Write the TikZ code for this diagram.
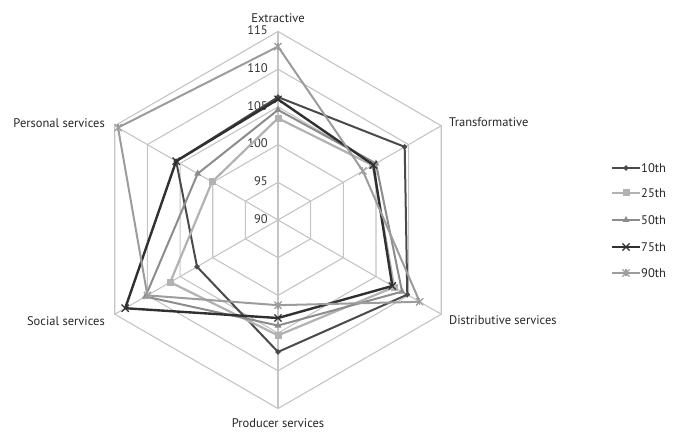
\documentclass[tikz,border=0pt]{standalone}
\usepackage{fontspec}
\setmainfont{PT Sans}
\usetikzlibrary{shapes.geometric,shapes.misc}
\definecolor{gridgray}{HTML}{C4C4C4}
\definecolor{cten}{HTML}{4A4A4A}
\definecolor{ctwfive}{HTML}{B2B2B2}
\definecolor{cfifty}{HTML}{8C8C8C}
\definecolor{csevfive}{HTML}{303030}
\definecolor{cninety}{HTML}{9C9C9C}
\newcommand{\radsc}{7.54}
\newcommand{\mkpts}[7]{%
  \coordinate (#1-1) at (90:{(#2-90)*\radsc});
  \coordinate (#1-2) at (30:{(#3-90)*\radsc});
  \coordinate (#1-3) at (-30:{(#4-90)*\radsc});
  \coordinate (#1-4) at (-90:{(#5-90)*\radsc});
  \coordinate (#1-5) at (-150:{(#6-90)*\radsc});
  \coordinate (#1-6) at (150:{(#7-90)*\radsc});
}
\begin{document}
\begin{tikzpicture}[x=1pt,y=1pt,
  gridline/.style={draw=gridgray, line width=1.1pt},
  lab/.style={font=\fontsize{12.5}{14}\selectfont, text=black!85, inner sep=1pt},
  vlab/.style={font=\fontsize{12.5}{14}\selectfont, text=black!80, anchor=east, inner sep=1pt},
  sten/.style={draw=cten, line width=2pt, line join=round},
  stwfive/.style={draw=ctwfive, line width=2.2pt, line join=round},
  sfifty/.style={draw=cfifty, line width=2pt, line join=round},
  ssevfive/.style={draw=csevfive, line width=2.4pt, line join=round},
  sninety/.style={draw=cninety, line width=2pt, line join=round},
  mkten/.style={diamond, fill=cten, inner sep=0pt, minimum size=6pt},
  mktwfive/.style={rectangle, fill=ctwfive, inner sep=0pt, minimum size=7pt},
  mkfifty/.style={regular polygon, regular polygon sides=3, fill=cfifty, inner sep=0pt, minimum size=8pt},
  mksevfive/.style={cross out, draw=csevfive, line width=1.2pt, inner sep=0pt, minimum size=6pt},
  mkninety/.style={cross out, draw=cninety, line width=1.2pt, inner sep=0pt, minimum size=6pt},
]
\useasboundingbox (0,0) rectangle (674,435);
\begin{scope}[shift={(278,215)}]
  % grid rings
  \foreach \v in {95,100,105,110,115}{
    \draw[gridline] (90:{(\v-90)*\radsc}) -- (30:{(\v-90)*\radsc}) -- (-30:{(\v-90)*\radsc})
      -- (-90:{(\v-90)*\radsc}) -- (-150:{(\v-90)*\radsc}) -- (150:{(\v-90)*\radsc}) -- cycle;
  }
  \coordinate (O) at (0,0);
  \foreach \a [count=\i] in {90,30,-30,-90,-150,150}{
    \coordinate (ax-\i) at (\a:{25*\radsc});
    \draw[gridline] (O) -- (ax-\i);
  }
  % value labels
  \foreach \v in {90,95,100,105,110,115}{
    \node[vlab] (vl-\v) at (-9,{(\v-90)*\radsc+1}) {\v};
  }
  % category labels
  \node[lab, anchor=south] (cE) at (0,196) {Extractive};
  \node[lab, anchor=west] (cT) at (170,98) {Transformative};
  \node[lab, anchor=west] (cD) at (170,-100) {Distributive services};
  \node[lab, anchor=north] (cP) at (0,-197) {Producer services};
  \node[lab, anchor=east] (cS) at (-172,-101) {Social services};
  \node[lab, anchor=east] (cPe) at (-172,97) {Personal services};

  % data
  \mkpts{sA}{106.3}{109.4}{109.8}{107.5}{102.4}{105.6}
  \mkpts{sB}{103.5}{104.5}{107.8}{105.3}{106.5}{100.1}
  \mkpts{sC}{104.6}{105.0}{109.0}{104.0}{110.3}{102.3}
  \mkpts{sD}{106.0}{104.6}{107.5}{103.0}{113.4}{105.6}
  \mkpts{sE}{113.0}{103.0}{111.7}{101.3}{110.0}{114.5}

  \draw[sten] (sA-1) -- (sA-2) -- (sA-3) -- (sA-4) -- (sA-5) -- (sA-6) -- cycle;
  \foreach \i in {1,...,6}{\node[mkten] (mA-\i) at (sA-\i) {};}
  \draw[stwfive] (sB-1) -- (sB-2) -- (sB-3) -- (sB-4) -- (sB-5) -- (sB-6) -- cycle;
  \foreach \i in {1,...,6}{\node[mktwfive] (mB-\i) at (sB-\i) {};}
  \draw[sfifty] (sC-1) -- (sC-2) -- (sC-3) -- (sC-4) -- (sC-5) -- (sC-6) -- cycle;
  \foreach \i in {1,...,6}{\node[mkfifty] (mC-\i) at (sC-\i) {};}
  \draw[ssevfive] (sD-1) -- (sD-2) -- (sD-3) -- (sD-4) -- (sD-5) -- (sD-6) -- cycle;
  \foreach \i in {1,...,6}{\node[mksevfive] (mD-\i) at (sD-\i) {};}
  \draw[sninety] (sE-1) -- (sE-2) -- (sE-3) -- (sE-4) -- (sE-5) -- (sE-6) -- cycle;
  \foreach \i in {1,...,6}{\node[mkninety] (mE-\i) at (sE-\i) {};
    \draw[cninety, line width=1.2pt] ([yshift=-3.5pt]sE-\i) -- ([yshift=3.5pt]sE-\i);}
\end{scope}

% legend
\foreach \st/\mk/\txt/\yy [count=\k] in {sten/mkten/10th/267, stwfive/mktwfive/25th/242, sfifty/mkfifty/50th/215, ssevfive/mksevfive/75th/188, sninety/mkninety/90th/162}{
  \coordinate (la-\k) at (612,\yy);
  \coordinate (lb-\k) at (640,\yy);
  \draw[\st] (la-\k) -- (lb-\k);
  \node[\mk] (lm-\k) at (626,\yy) {};
  \node[lab, anchor=west, inner sep=0pt] (lt-\k) at (641,\yy) {\txt};
}
\draw[cninety, line width=1.2pt] (626,158.5) -- (626,165.5);
\end{tikzpicture}
\end{document}
